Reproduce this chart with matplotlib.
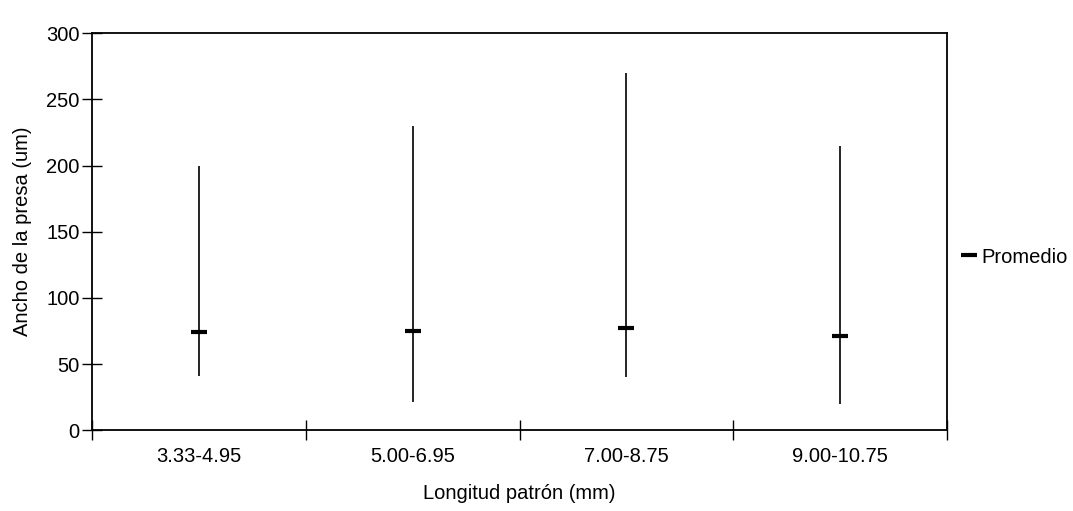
import matplotlib
matplotlib.use("Agg")
import matplotlib.pyplot as plt
from matplotlib.lines import Line2D

plt.rcParams['font.family'] = ['Liberation Sans', 'DejaVu Sans']

categories = ["3.33-4.95", "5.00-6.95", "7.00-8.75", "9.00-10.75"]
max_vals = [200, 230, 270, 215]
min_vals = [41, 21, 40, 20]
mean_vals = [74, 75, 77, 71]

FS = 14.5

fig = plt.figure(figsize=(10.73, 5.11), dpi=100)
ax = fig.add_axes([0.0857, 0.158, 0.797, 0.777])

x = list(range(len(categories)))
ax.vlines(x, min_vals, max_vals, color='black', linewidth=1.2)
ax.plot(x, mean_vals, linestyle='none', marker='_', markersize=11,
        markeredgewidth=3, color='black')

ax.set_xlim(-0.5, len(categories) - 0.5)
ax.set_ylim(0, 300)
ax.set_yticks(range(0, 301, 50))
ax.set_xticks([i + 0.5 for i in range(-1, len(categories))])
ax.set_xticklabels([])
ax.set_xticks(x, minor=True)
ax.set_xticklabels(categories, minor=True)
ax.tick_params(axis='x', which='minor', length=0, pad=12, labelsize=FS)
ax.tick_params(axis='x', which='major', direction='inout', length=14, width=1)
ax.tick_params(axis='y', direction='inout', length=14, width=1, labelsize=FS, pad=2)
for s in ax.spines.values():
    s.set_linewidth(1.3)

ax.set_xlabel("Longitud patrón (mm)", fontsize=FS, labelpad=13)
ax.set_ylabel("Ancho de la presa (um)", fontsize=FS, labelpad=10)

handle = Line2D([], [], linestyle='none', marker='_', markersize=11,
                markeredgewidth=3, color='black')
fig.legend([handle], ["Promedio"], loc='center left',
           bbox_to_anchor=(0.896, 0.497), frameon=False, fontsize=FS,
           handlelength=0.6, handletextpad=0.3, borderaxespad=0, borderpad=0.1)

fig.savefig("out.png", dpi=100)
